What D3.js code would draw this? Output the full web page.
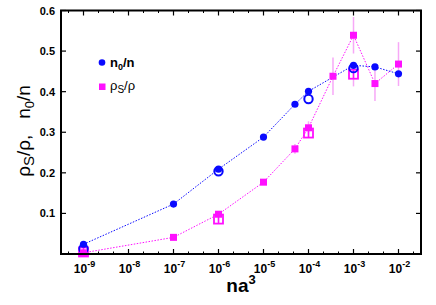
<!DOCTYPE html>
<html>
<head>
<meta charset="utf-8"/>
<script src="https://d3js.org/d3.v7.min.js"></script>
<style>
  body { margin: 0; background: #fff; }
  svg { font-family: "Liberation Sans", Arial, sans-serif; }
</style>
</head>
<body>
<svg width="436" height="305"></svg>
<script>
// datos
const xN0 = [1e-9, 1e-7, 1e-6, 1e-5, 5e-5, 1e-4, 1e-3, 3e-3, 1e-2];
const yN0 = [0.024, 0.123, 0.209, 0.288, 0.369, 0.401, 0.465, 0.461, 0.444];

const xN0open = [1e-9, 1e-6, 1e-4, 1e-3];
const yN0open = [0.013, 0.204, 0.382, 0.458];

const xRho = [1e-9, 1e-7, 1e-6, 1e-5, 5e-5, 1e-4, 3.5e-4, 1e-3, 3e-3, 1e-2];
const yRho = [0.003, 0.041, 0.098, 0.177, 0.259, 0.311, 0.438, 0.539, 0.420, 0.468];
const eRho = [0, 0, 0, 0, 0.012, 0.016, 0.046, 0.045, 0.043, 0.054];

const xRhoOpen = [1e-9, 1e-6, 1e-4, 1e-3];
const yRhoOpen = [0.005, 0.086, 0.298, 0.443];
const eRhoOpen = [0.005, 0.008, 0.012, 0.03];

const xTickExp = [-9, -8, -7, -6, -5, -4, -3, -2];
const yTicks = [0.1, 0.2, 0.3, 0.4, 0.5, 0.6];

const blue = "#0a0aff", magenta = "#ff10ff", errCol = "#f7a8f7";

const svg = d3.select("svg");
const mLeft = 61, mRight = 421, mTop = 10.5, mBottom = 254;

const x = d3.scaleLog().domain([Math.pow(10, -9.5), Math.pow(10, -1.5)]).range([mLeft, mRight]);
const y = d3.scaleLinear().domain([0, 0.6]).range([mBottom, mTop]);

// ticks (hacia adentro) en los cuatro lados
const g = svg.append("g").attr("stroke", "#000");
// minor ticks a tercios de decada
const minorX = [];
for (let k = -10; k <= -1; k++) {
  minorX.push(Math.pow(10, k - 1 / 3), Math.pow(10, k + 1 / 3));
}
minorX.forEach(v => {
  if (x(v) <= mLeft + 1 || x(v) >= mRight - 1) return;
  g.append("line").attr("x1", x(v)).attr("x2", x(v)).attr("y1", mBottom).attr("y2", mBottom - 2.5).attr("stroke-width", 1);
  g.append("line").attr("x1", x(v)).attr("x2", x(v)).attr("y1", mTop).attr("y2", mTop + 2.5).attr("stroke-width", 1);
});
xTickExp.forEach(e => {
  const px = x(Math.pow(10, e));
  g.append("line").attr("x1", px).attr("x2", px).attr("y1", mBottom).attr("y2", mBottom - 5).attr("stroke-width", 1.2);
  g.append("line").attr("x1", px).attr("x2", px).attr("y1", mTop).attr("y2", mTop + 5).attr("stroke-width", 1.2);
});
yTicks.forEach(v => {
  g.append("line").attr("x1", mLeft).attr("x2", mLeft + 5).attr("y1", y(v)).attr("y2", y(v)).attr("stroke-width", 1.2);
  g.append("line").attr("x1", mRight).attr("x2", mRight - 5).attr("y1", y(v)).attr("y2", y(v)).attr("stroke-width", 1.2);
});

// etiquetas de ticks
svg.append("g").selectAll("text").data(yTicks).enter().append("text")
  .attr("x", mLeft - 6).attr("y", d => y(d) + 4)
  .attr("text-anchor", "end").attr("font-size", 11).attr("font-weight", "bold")
  .text(d => d.toFixed(1));

const xl = svg.append("g").selectAll("text").data(xTickExp).enter().append("text")
  .attr("x", d => x(Math.pow(10, d)) + 1).attr("y", 273)
  .attr("text-anchor", "middle").attr("font-size", 12).attr("font-weight", "bold");
xl.append("tspan").text("10");
xl.append("tspan").attr("dy", -6).attr("font-size", 9).text(d => String(d));

// titulos de ejes
const xt = svg.append("text").attr("x", 241).attr("y", 292).attr("text-anchor", "middle")
  .attr("font-size", 19).attr("font-weight", "bold");
xt.append("tspan").text("na");
xt.append("tspan").attr("dy", -8).attr("font-size", 13).text("3");

const yt = svg.append("text").attr("transform", "translate(30,131) rotate(-90)")
  .attr("text-anchor", "middle").attr("font-size", 19);
yt.append("tspan").text("ρ");
yt.append("tspan").attr("dy", 4).attr("font-size", 15).text("S");
yt.append("tspan").attr("dy", -4).text("/ρ,\u00a0\u00a0\u00a0n");
yt.append("tspan").attr("dy", 4).attr("font-size", 13).text("0");
yt.append("tspan").attr("dy", -4).text("/n");

// lineas punteadas
const line = d3.line().x(d => x(d[0])).y(d => y(d[1]));
svg.append("path").attr("d", line(d3.zip(xRho, yRho)))
  .attr("fill", "none").attr("stroke", magenta).attr("stroke-width", 1).attr("stroke-dasharray", "1.5,1.5");
svg.append("path").attr("d", line(d3.zip(xN0, yN0)))
  .attr("fill", "none").attr("stroke", blue).attr("stroke-width", 1).attr("stroke-dasharray", "1.5,1.5");

// barras de error
const errData = d3.zip(xRho, yRho, eRho).concat(d3.zip(xRhoOpen, yRhoOpen, eRhoOpen)).filter(d => d[2] > 0);
svg.append("g").selectAll("line").data(errData).enter().append("line")
  .attr("x1", d => x(d[0])).attr("x2", d => x(d[0]))
  .attr("y1", d => y(d[1] - d[2])).attr("y2", d => y(d[1] + d[2]))
  .attr("stroke", errCol).attr("stroke-width", 1.5);

// simbolos abiertos
svg.append("g").selectAll("rect").data(d3.zip(xRhoOpen, yRhoOpen)).enter().append("rect")
  .attr("x", d => x(d[0]) - 4.5).attr("y", d => y(d[1]) - 4.5)
  .attr("width", 9).attr("height", 9)
  .attr("fill", "none").attr("stroke", magenta).attr("stroke-width", 1.8);
svg.append("g").selectAll("line").data(d3.zip(xRhoOpen, yRhoOpen)).enter().append("line")
  .attr("x1", d => x(d[0])).attr("x2", d => x(d[0]))
  .attr("y1", d => y(d[1]) - 4.5).attr("y2", d => y(d[1]) + 4.5)
  .attr("stroke", magenta).attr("stroke-width", 1.5);
svg.append("g").selectAll("circle").data(d3.zip(xN0open, yN0open)).enter().append("circle")
  .attr("cx", d => x(d[0])).attr("cy", d => y(d[1])).attr("r", 4.2)
  .attr("fill", "none").attr("stroke", blue).attr("stroke-width", 2);

// simbolos llenos
svg.append("g").selectAll("rect").data(d3.zip(xRho, yRho)).enter().append("rect")
  .attr("x", d => x(d[0]) - 3.5).attr("y", d => y(d[1]) - 3.5)
  .attr("width", 7).attr("height", 7).attr("fill", magenta);
svg.append("g").selectAll("circle").data(d3.zip(xN0, yN0)).enter().append("circle")
  .attr("cx", d => x(d[0])).attr("cy", d => y(d[1])).attr("r", 3.6).attr("fill", blue);

// marco
svg.append("rect").attr("x", mLeft).attr("y", mTop).attr("width", mRight - mLeft).attr("height", mBottom - mTop)
  .attr("fill", "none").attr("stroke", "#000").attr("stroke-width", 2);

// leyenda
svg.append("circle").attr("cx", 102).attr("cy", 62.5).attr("r", 3.3).attr("fill", blue);
const l1 = svg.append("text").attr("x", 110).attr("y", 67).attr("font-size", 13).attr("font-weight", "bold");
l1.append("tspan").text("n");
l1.append("tspan").attr("dy", 3).attr("font-size", 9).text("0");
l1.append("tspan").attr("dy", -3).text("/n");
svg.append("rect").attr("x", 99).attr("y", 83.5).attr("width", 6.5).attr("height", 6.5).attr("fill", magenta);
const l2 = svg.append("text").attr("x", 110).attr("y", 90).attr("font-size", 13);
l2.append("tspan").text("ρ");
l2.append("tspan").attr("dy", 3).attr("font-size", 10).text("S");
l2.append("tspan").attr("dy", -3).text("/ρ");
</script>
</body>
</html>
